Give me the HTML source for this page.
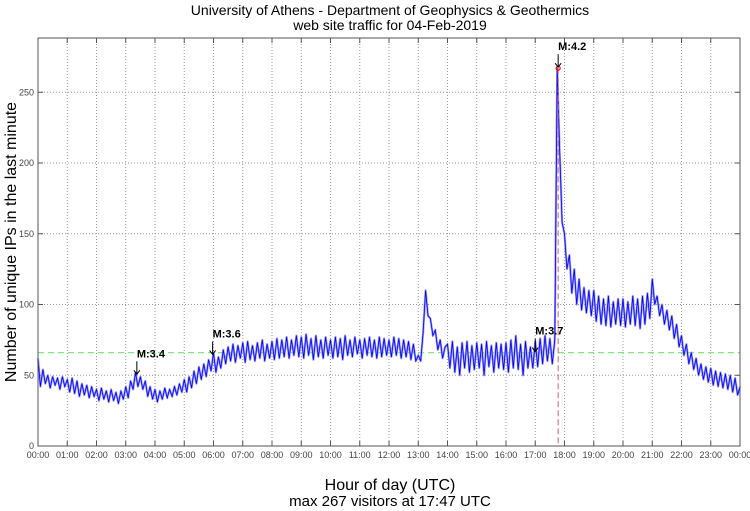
<!DOCTYPE html>
<html><head><meta charset="utf-8"><style>
body{margin:0;background:#fff;}
svg{display:block;font-family:"Liberation Sans",sans-serif;}
</style></head><body>
<svg id="chart" width="750" height="511" viewBox="0 0 750 511">
<text x="390" y="15" font-size="14" text-anchor="middle">University of Athens - Department of Geophysics &amp; Geothermics</text>
<text x="390" y="30" font-size="14" text-anchor="middle">web site traffic for 04-Feb-2019</text>
<text x="390" y="490" font-size="16" text-anchor="middle">Hour of day (UTC)</text>
<text x="390" y="506" font-size="15" text-anchor="middle">max 267 visitors at 17:47 UTC</text>
<text transform="translate(12,242) rotate(-90)" font-size="16" text-anchor="middle" dominant-baseline="middle">Number of unique IPs in the last minute</text>
<g id="grid"></g><g id="series"></g><g id="annots"></g>
<rect x="38" y="38" width="702" height="408" fill="none" stroke="#555" stroke-width="1"/>
</svg>
<script>
const yTicks=[0,50,100,150,200,250];
const xTickLabels=["00:00","01:00","02:00","03:00","04:00","05:00","06:00","07:00","08:00","09:00","10:00","11:00","12:00","13:00","14:00","15:00","16:00","17:00","18:00","19:00","20:00","21:00","22:00","23:00","00:00"];
// visitors per 5 minutes, 00:00 .. 24:00
const visitors=[
62,42,54,44,50,41,49,43,48,40,49,42,
47,38,48,37,46,35,44,36,43,34,42,35,
40,32,41,33,39,31,40,32,38,30,39,33,
42,34,46,40,52,42,49,40,46,35,42,33,
40,31,39,33,41,34,40,35,42,36,44,38,
47,38,49,41,53,44,56,47,58,49,61,53,
66,52,63,55,68,58,70,60,72,59,71,62,
73,59,74,61,71,60,73,62,75,60,72,62,
74,61,76,62,75,63,77,62,75,64,78,63,
77,62,79,64,76,61,78,63,75,62,77,64,
75,62,77,63,76,61,78,64,75,63,77,65,
75,62,76,64,77,63,75,62,77,63,76,64,
75,63,77,64,76,62,75,63,74,61,72,60,
64,60,80,110,92,90,78,82,68,75,62,70,
72,55,74,52,70,50,73,55,74,52,71,54,
73,55,72,50,74,56,71,52,73,55,72,54,
73,52,75,55,78,54,72,50,74,55,70,55,
74,56,76,58,78,60,76,58,75,267,210,158,
150,125,135,108,125,100,118,96,112,94,110,92,
110,88,106,86,104,85,106,84,102,86,104,85,
104,84,102,86,106,85,104,83,106,86,108,90,
118,100,106,92,100,86,96,82,92,76,86,70,
78,64,72,58,66,54,62,50,58,47,56,45,
55,43,53,42,52,41,51,40,50,38,48,36,
42];
const avgLevel=[66];
const maxHour=[17+47/60];
const maxValue=[267];
const quakeLabels=["M:3.4","M:3.6","M:3.7","M:4.2"];
const quakeHours=[3.38,5.97,17.0,17+47/60];
const quakeValues=[50,64,66,267];

const L=38,R=740,T=38,B=446;
const x=h=>L+h*(R-L)/24;
const y=v=>B-v*1.415;
const NS="http://www.w3.org/2000/svg";
function mk(tag,attrs,parent){const e=document.createElementNS(NS,tag);for(const k in attrs)e.setAttribute(k,attrs[k]);parent.appendChild(e);return e;}
const grid=document.getElementById('grid'),ser=document.getElementById('series'),an=document.getElementById('annots');
yTicks.forEach(v=>{
 if(v>0){const l=mk('line',{x1:L,x2:R,y1:y(v),y2:y(v),stroke:'#999','stroke-dasharray':'1,2'},grid);
 }
 const tk=mk('line',{x1:L,x2:L+5,y1:y(v),y2:y(v),stroke:'#555'},grid);
 
 const tk2=mk('line',{x1:R-5,x2:R,y1:y(v),y2:y(v),stroke:'#555'},grid);
 
 const t=mk('text',{x:L-4,y:y(v)+3,'font-size':9,'text-anchor':'end',fill:'#444'},grid);t.textContent=v;
 
});
xTickLabels.forEach((s,i)=>{
 if(i>0&&i<24){const l=mk('line',{x1:x(i),x2:x(i),y1:T,y2:B,stroke:'#999','stroke-dasharray':'1,2'},grid);
 }
 const tk=mk('line',{x1:x(i),x2:x(i),y1:B-5,y2:B,stroke:'#555'},grid);
 
 const tk2=mk('line',{x1:x(i),x2:x(i),y1:T,y2:T+5,stroke:'#555'},grid);
 
 const t=mk('text',{x:x(i),y:B+12,'font-size':9,'text-anchor':'middle',fill:'#444'},grid);t.textContent=s;
 
});
const avg=mk('line',{x1:L,x2:R,y1:y(avgLevel[0]),y2:y(avgLevel[0]),stroke:'#7de87d','stroke-width':1.3,'stroke-dasharray':'6,4'},ser);

const pts=visitors.map((v,i)=>x(i*24/(visitors.length-1)).toFixed(1)+','+y(v).toFixed(1)).join(' ');
const band=mk('polyline',{points:pts,fill:'none',stroke:'#9a9aff','stroke-width':2.2,'stroke-linejoin':'round'},ser);

const line=mk('polyline',{points:pts,fill:'none',stroke:'#0000ee','stroke-width':0.8},ser);

const vl=mk('line',{x1:x(maxHour[0]),x2:x(maxHour[0]),y1:y(maxValue[0]),y2:B,stroke:'#c66','stroke-dasharray':'6,3'},ser);

const mc=mk('circle',{cx:x(maxHour[0]),cy:y(maxValue[0]),r:2,fill:'none',stroke:'red','stroke-width':1.2},ser);

quakeLabels.forEach((s,i)=>{
 const px=x(quakeHours[i]),py=y(quakeValues[i]);
 const a=mk('path',{d:`M${px},${py-14}L${px},${py-1}M${px-3},${py-5}L${px},${py-1}L${px+3},${py-5}`,stroke:'#000',fill:'none','stroke-width':1},an);
 
 const t=mk('text',{x:px,y:py-18,'font-size':11,'font-weight':'bold'},an);t.textContent=s;
 
});
</script>
</body></html>
